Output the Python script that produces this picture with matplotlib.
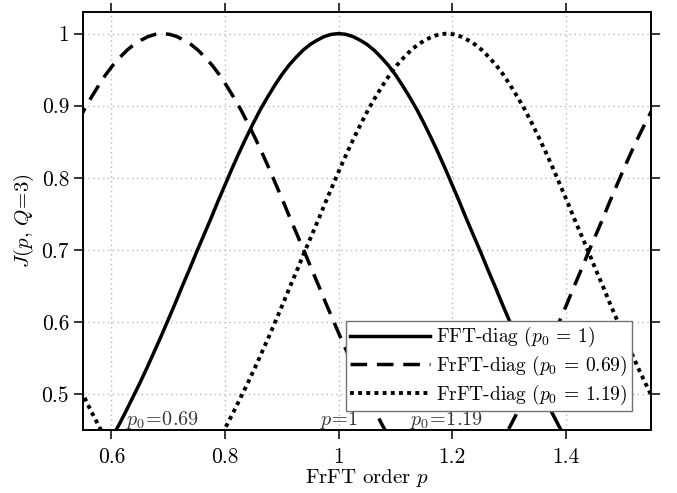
import numpy as np
import matplotlib
matplotlib.use("Agg")
import matplotlib.pyplot as plt
from matplotlib.ticker import FormatStrFormatter

plt.rcParams['font.family'] = 'serif'
plt.rcParams['font.serif'] = ['cmr10']
plt.rcParams['mathtext.fontset'] = 'cm'
plt.rcParams['axes.formatter.use_mathtext'] = True
plt.rcParams['axes.unicode_minus'] = False

####################################################################################################
# valores (passo 0.0125 em p)

p_fft = np.linspace(0.575, 1.425, 69)
J_fft = [0.405, 0.421, 0.438, 0.456, 0.475, 0.495, 0.515, 0.536, 0.558, 0.580, 0.603, 0.626,
         0.650, 0.673, 0.697, 0.720, 0.743, 0.767, 0.790, 0.813, 0.835, 0.856, 0.876, 0.895,
         0.912, 0.928, 0.943, 0.956, 0.967, 0.977, 0.985, 0.991, 0.996, 0.999, 1.000,
         0.999, 0.996, 0.991, 0.985, 0.977, 0.967, 0.956, 0.943, 0.928, 0.912, 0.895, 0.876,
         0.856, 0.835, 0.813, 0.790, 0.767, 0.743, 0.720, 0.697, 0.673, 0.650, 0.626, 0.603,
         0.580, 0.558, 0.536, 0.515, 0.495, 0.475, 0.456, 0.438, 0.421, 0.405]

p_frft069 = np.linspace(0.54, 1.565, 83)
J_frft069 = [0.876, 0.895, 0.912, 0.928, 0.943, 0.956, 0.967, 0.977, 0.985, 0.991, 0.996, 0.999,
             1.000,
             0.999, 0.996, 0.991, 0.985, 0.977, 0.967, 0.956, 0.943, 0.928, 0.912, 0.895, 0.876,
             0.856, 0.835, 0.813, 0.790, 0.767, 0.743, 0.720, 0.697, 0.673, 0.650, 0.626, 0.603,
             0.580, 0.558, 0.536, 0.515, 0.495, 0.475, 0.456, 0.438, 0.421, 0.405, 0.390, 0.377,
             0.366, 0.357, 0.352, 0.350,
             0.352, 0.357, 0.366, 0.377, 0.390, 0.405, 0.421, 0.438, 0.456, 0.475, 0.495, 0.515,
             0.536, 0.558, 0.580, 0.603, 0.626, 0.650, 0.673, 0.697, 0.720, 0.743, 0.767, 0.790,
             0.813, 0.835, 0.856, 0.876, 0.895, 0.912]

p_frft119 = np.linspace(0.54, 1.565, 83)
J_frft119 = [0.515, 0.495, 0.475, 0.456, 0.438, 0.421, 0.405, 0.390, 0.377, 0.366, 0.357, 0.352,
             0.350,
             0.352, 0.357, 0.366, 0.377, 0.390, 0.405, 0.421, 0.438, 0.456, 0.475, 0.495, 0.515,
             0.536, 0.558, 0.580, 0.603, 0.626, 0.650, 0.673, 0.697, 0.720, 0.743, 0.767, 0.790,
             0.813, 0.835, 0.856, 0.876, 0.895, 0.912, 0.928, 0.943, 0.956, 0.967, 0.977, 0.985,
             0.991, 0.996, 0.999, 1.000,
             0.999, 0.996, 0.991, 0.985, 0.977, 0.967, 0.956, 0.943, 0.928, 0.912, 0.895, 0.876,
             0.856, 0.835, 0.813, 0.790, 0.767, 0.743, 0.720, 0.697, 0.673, 0.650, 0.626, 0.603,
             0.580, 0.558, 0.536, 0.515, 0.495, 0.475]

legendas = [r'FFT-diag ($p_0$ = 1)', r'FrFT-diag ($p_0$ = 0.69)', r'FrFT-diag ($p_0$ = 1.19)']
marcas_p = [0.69, 1.0, 1.19]
marcas_txt = [r'$p_0\!=\!0.69$', r'$p\!=\!1$', r'$p_0\!=\!1.19$']

xticks = [0.6, 0.8, 1.0, 1.2, 1.4]
yticks = [0.5, 0.6, 0.7, 0.8, 0.9, 1.0]

####################################################################################################
# plotagem

fig = plt.figure(figsize=(6.77, 4.93), dpi=100)
ax = fig.add_axes([0.1226, 0.1278, 0.839, 0.8479])

ax.plot(p_fft, J_fft, color='k', lw=2.5, label=legendas[0])
ax.plot(p_frft069, J_frft069, color='k', lw=2.5, linestyle=(0, (4.8, 2.8)), label=legendas[1])
ax.plot(p_frft119, J_frft119, color='k', lw=2.8, linestyle=(0, (1, 1.1)), label=legendas[2])

for xp, txt in zip(marcas_p, marcas_txt):
    ax.text(xp, 0.449, txt, ha='center', va='bottom', fontsize=14.5, color='0.22')

ax.set_xlim(0.55, 1.55)
ax.set_ylim(0.45, 1.03)
ax.set_xticks(xticks)
ax.set_yticks(yticks)
ax.xaxis.set_major_formatter(FormatStrFormatter('%g'))
ax.yaxis.set_major_formatter(FormatStrFormatter('%g'))
ax.tick_params(direction='out', length=6.5, width=1.1, labelsize=15.5,
               top=True, right=True, labeltop=False, labelright=False)
ax.tick_params(axis='x', pad=6)
for s in ax.spines.values():
    s.set_linewidth(1.4)

ax.grid(True, color='#b8b8b8', linestyle=(0, (1, 2.5)), lw=1.0)

ax.set_xlabel(r'FrFT order $p$', fontsize=15, labelpad=0)
ax.set_ylabel(r'$J(p,\,Q\!=\!3)$', fontsize=15, labelpad=4)

leg = ax.legend(loc='lower right', fontsize=14, handlelength=4.1, handletextpad=0.35,
                labelspacing=0.23, borderpad=0.2, borderaxespad=1.0,
                fancybox=False, framealpha=1, edgecolor='0.45')
leg.get_frame().set_linewidth(1.0)

fig.savefig('out.png', dpi=100)
